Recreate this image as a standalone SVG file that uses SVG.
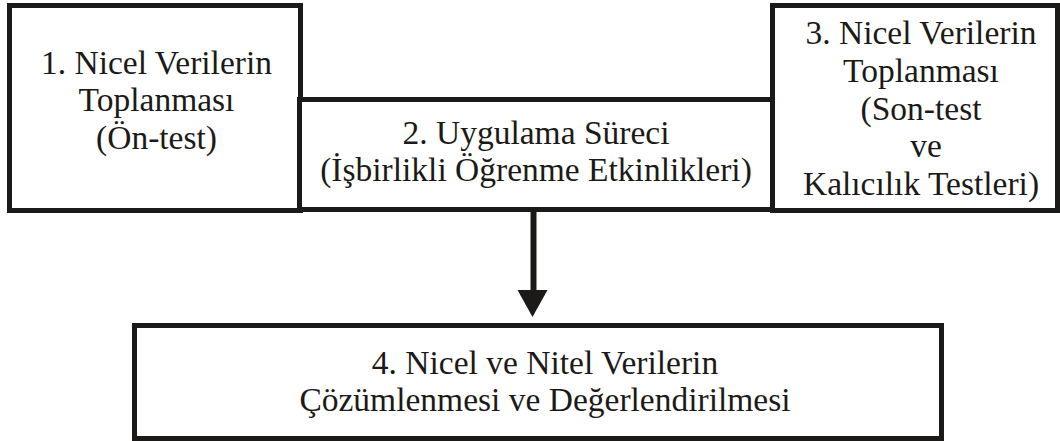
<svg xmlns="http://www.w3.org/2000/svg" width="1060" height="441" viewBox="0 0 1060 441">
<style>
.box{fill:#fff;stroke:#1c1a18;stroke-width:5}
.t{font-family:"Liberation Serif","Times New Roman",serif;font-size:33.5px;fill:#1c1a18;text-anchor:middle}
.conn{stroke:#1c1a18;stroke-width:6;fill:none}
</style>
<rect width="1060" height="441" fill="#fff"/>
<g id="node1">
<rect class="box" x="9.5" y="5.5" width="291" height="205"/>
<text class="t" x="156.5" y="73.5">1. Nicel Verilerin</text>
<text class="t" x="156.5" y="111">Toplanması</text>
<text class="t" x="156.5" y="148.5">(Ön-test)</text>
</g>
<g id="node2">
<rect class="box" x="299.5" y="99.5" width="475" height="110"/>
<text class="t" x="536" y="143.5">2. Uygulama Süreci</text>
<text class="t" x="536" y="181">(İşbirlikli Öğrenme Etkinlikleri)</text>
</g>
<g id="node3">
<rect class="box" x="772.5" y="5.5" width="285" height="205"/>
<text class="t" x="921" y="44">3. Nicel Verilerin</text>
<text class="t" x="921" y="82">Toplanması</text>
<text class="t" x="921" y="119.5">(Son-test</text>
<text class="t" x="926" y="157">ve</text>
<text class="t" x="921" y="195">Kalıcılık Testleri)</text>
</g>
<g id="node4">
<rect class="box" x="134.5" y="325.5" width="807" height="113"/>
<text class="t" x="545" y="373.5">4. Nicel ve Nitel Verilerin</text>
<text class="t" x="545" y="410.5">Çözümlenmesi ve Değerlendirilmesi</text>
</g>
<g id="connectors">
<line class="conn" x1="533.5" y1="212" x2="533.5" y2="292"/>
<polygon points="517.5,290 547.5,290 532.5,317" fill="#1c1a18"/>
</g>
</svg>
